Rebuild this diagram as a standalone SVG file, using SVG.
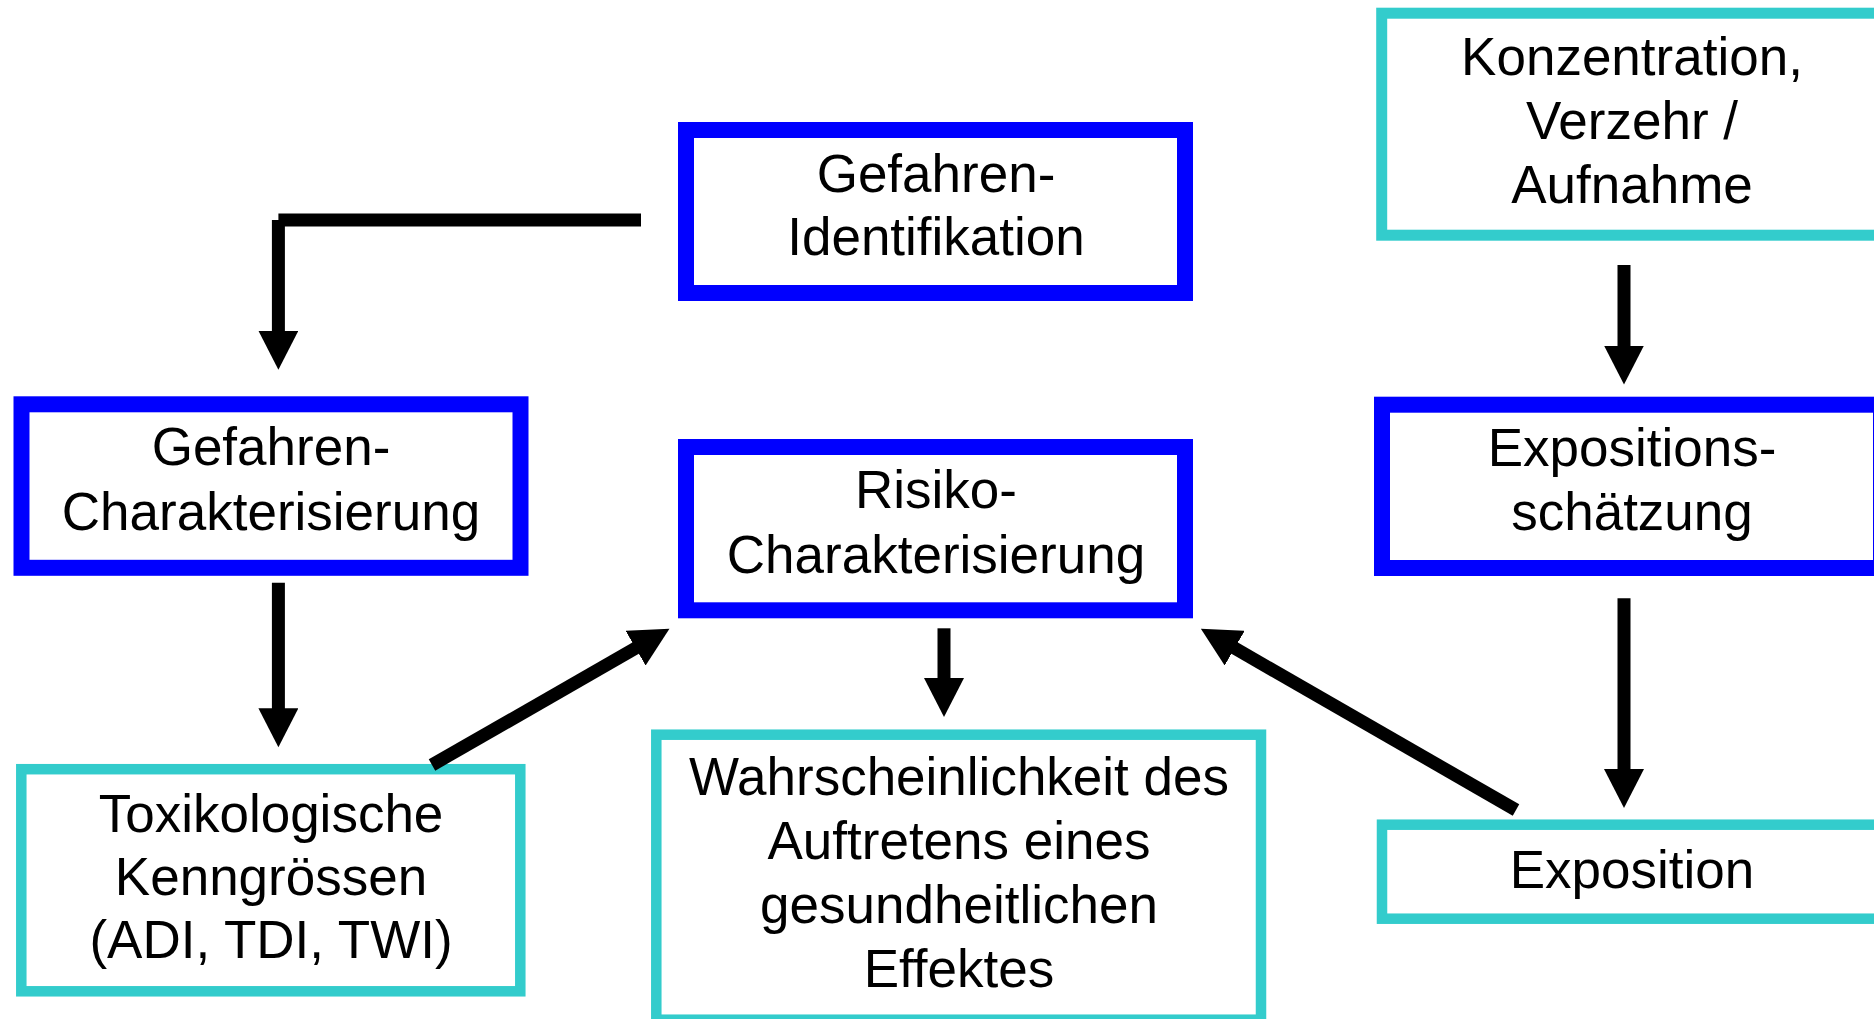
<svg xmlns="http://www.w3.org/2000/svg" width="1874" height="1019" viewBox="0 0 1874 1019">
<style>
.bg{fill:#ffffff}
.blue{fill:#ffffff;stroke:#0000ff;stroke-width:16}
.cyan{fill:#ffffff;stroke:#33cccc;stroke-width:10.5}
.lbl{font-family:"Liberation Sans",Arial,Helvetica,sans-serif;font-size:53px;fill:#000000;text-anchor:middle}
.con{fill:none;stroke:#000000;stroke-width:13;stroke-linecap:butt;stroke-linejoin:miter}
</style>
<defs>
<marker id="ah" markerUnits="userSpaceOnUse" markerWidth="40" markerHeight="40" viewBox="0 0 40 40" refX="1" refY="20" orient="auto">
<path d="M0,0 L39,20 L0,40 Z" fill="#000000"/>
</marker>
</defs>
<rect class="bg" x="0" y="0" width="1874" height="1019"/>
<g id="nodes">
<g id="n-gefahren-identifikation">
<rect class="blue" x="686" y="130" width="499" height="163"/>
<text class="lbl" x="936" y="191.5">Gefahren-</text>
<text class="lbl" x="936" y="255">Identifikation</text>
</g>
<g id="n-konzentration">
<rect class="cyan" x="1381.7" y="13.2" width="499" height="222" style="stroke-width:11"/>
<text class="lbl" x="1632" y="74.5">Konzentration,</text>
<text class="lbl" x="1632" y="138.5">Verzehr /</text>
<text class="lbl" x="1632" y="202.5">Aufnahme</text>
</g>
<g id="n-gefahren-charakterisierung">
<rect class="blue" x="21.5" y="404.3" width="499" height="163.5"/>
<text class="lbl" x="271" y="465">Gefahren-</text>
<text class="lbl" x="271" y="530">Charakterisierung</text>
</g>
<g id="n-risiko-charakterisierung">
<rect class="blue" x="686" y="447" width="499" height="163.3"/>
<text class="lbl" x="936" y="508.3">Risiko-</text>
<text class="lbl" x="936" y="572.7">Charakterisierung</text>
</g>
<g id="n-expositionsschaetzung">
<rect class="blue" x="1382" y="404.7" width="499" height="163.3"/>
<text class="lbl" x="1632" y="466">Expositions-</text>
<text class="lbl" x="1632" y="530">schätzung</text>
</g>
<g id="n-toxikologische-kenngroessen">
<rect class="cyan" x="21.3" y="769.2" width="499" height="222.1"/>
<text class="lbl" x="271" y="831.7">Toxikologische</text>
<text class="lbl" x="271" y="895">Kenngrössen</text>
<text class="lbl" x="271" y="958.3">(ADI, TDI, TWI)</text>
</g>
<g id="n-wahrscheinlichkeit">
<rect class="cyan" x="656.3" y="734.7" width="604.7" height="285"/>
<text class="lbl" x="959" y="795">Wahrscheinlichkeit des</text>
<text class="lbl" x="959" y="859.3">Auftretens eines</text>
<text class="lbl" x="959" y="923.3">gesundheitlichen</text>
<text class="lbl" x="959" y="986.7">Effektes</text>
</g>
<g id="n-exposition">
<rect class="cyan" x="1382" y="824.7" width="499" height="94"/>
<text class="lbl" x="1632" y="888.3">Exposition</text>
</g>
</g>
<g id="connectors">
<g id="c-identifikation-charakterisierung">
<path class="con" d="M641,220 H278.4"/>
<path class="con" d="M278.4,220 V331.7" marker-end="url(#ah)"/>
</g>
<path class="con" d="M278.4,582.7 V709.3" marker-end="url(#ah)"/>
<path class="con" d="M1624,265 V346.5" marker-end="url(#ah)"/>
<path class="con" d="M1624,598.3 V770" marker-end="url(#ah)"/>
<path class="con" d="M944,628.3 V679" marker-end="url(#ah)"/>
<path class="con" d="M432,765 L636.5,647.7" marker-end="url(#ah)"/>
<path class="con" d="M1516,810 L1233.8,647.7" marker-end="url(#ah)"/>
</g>
</svg>
